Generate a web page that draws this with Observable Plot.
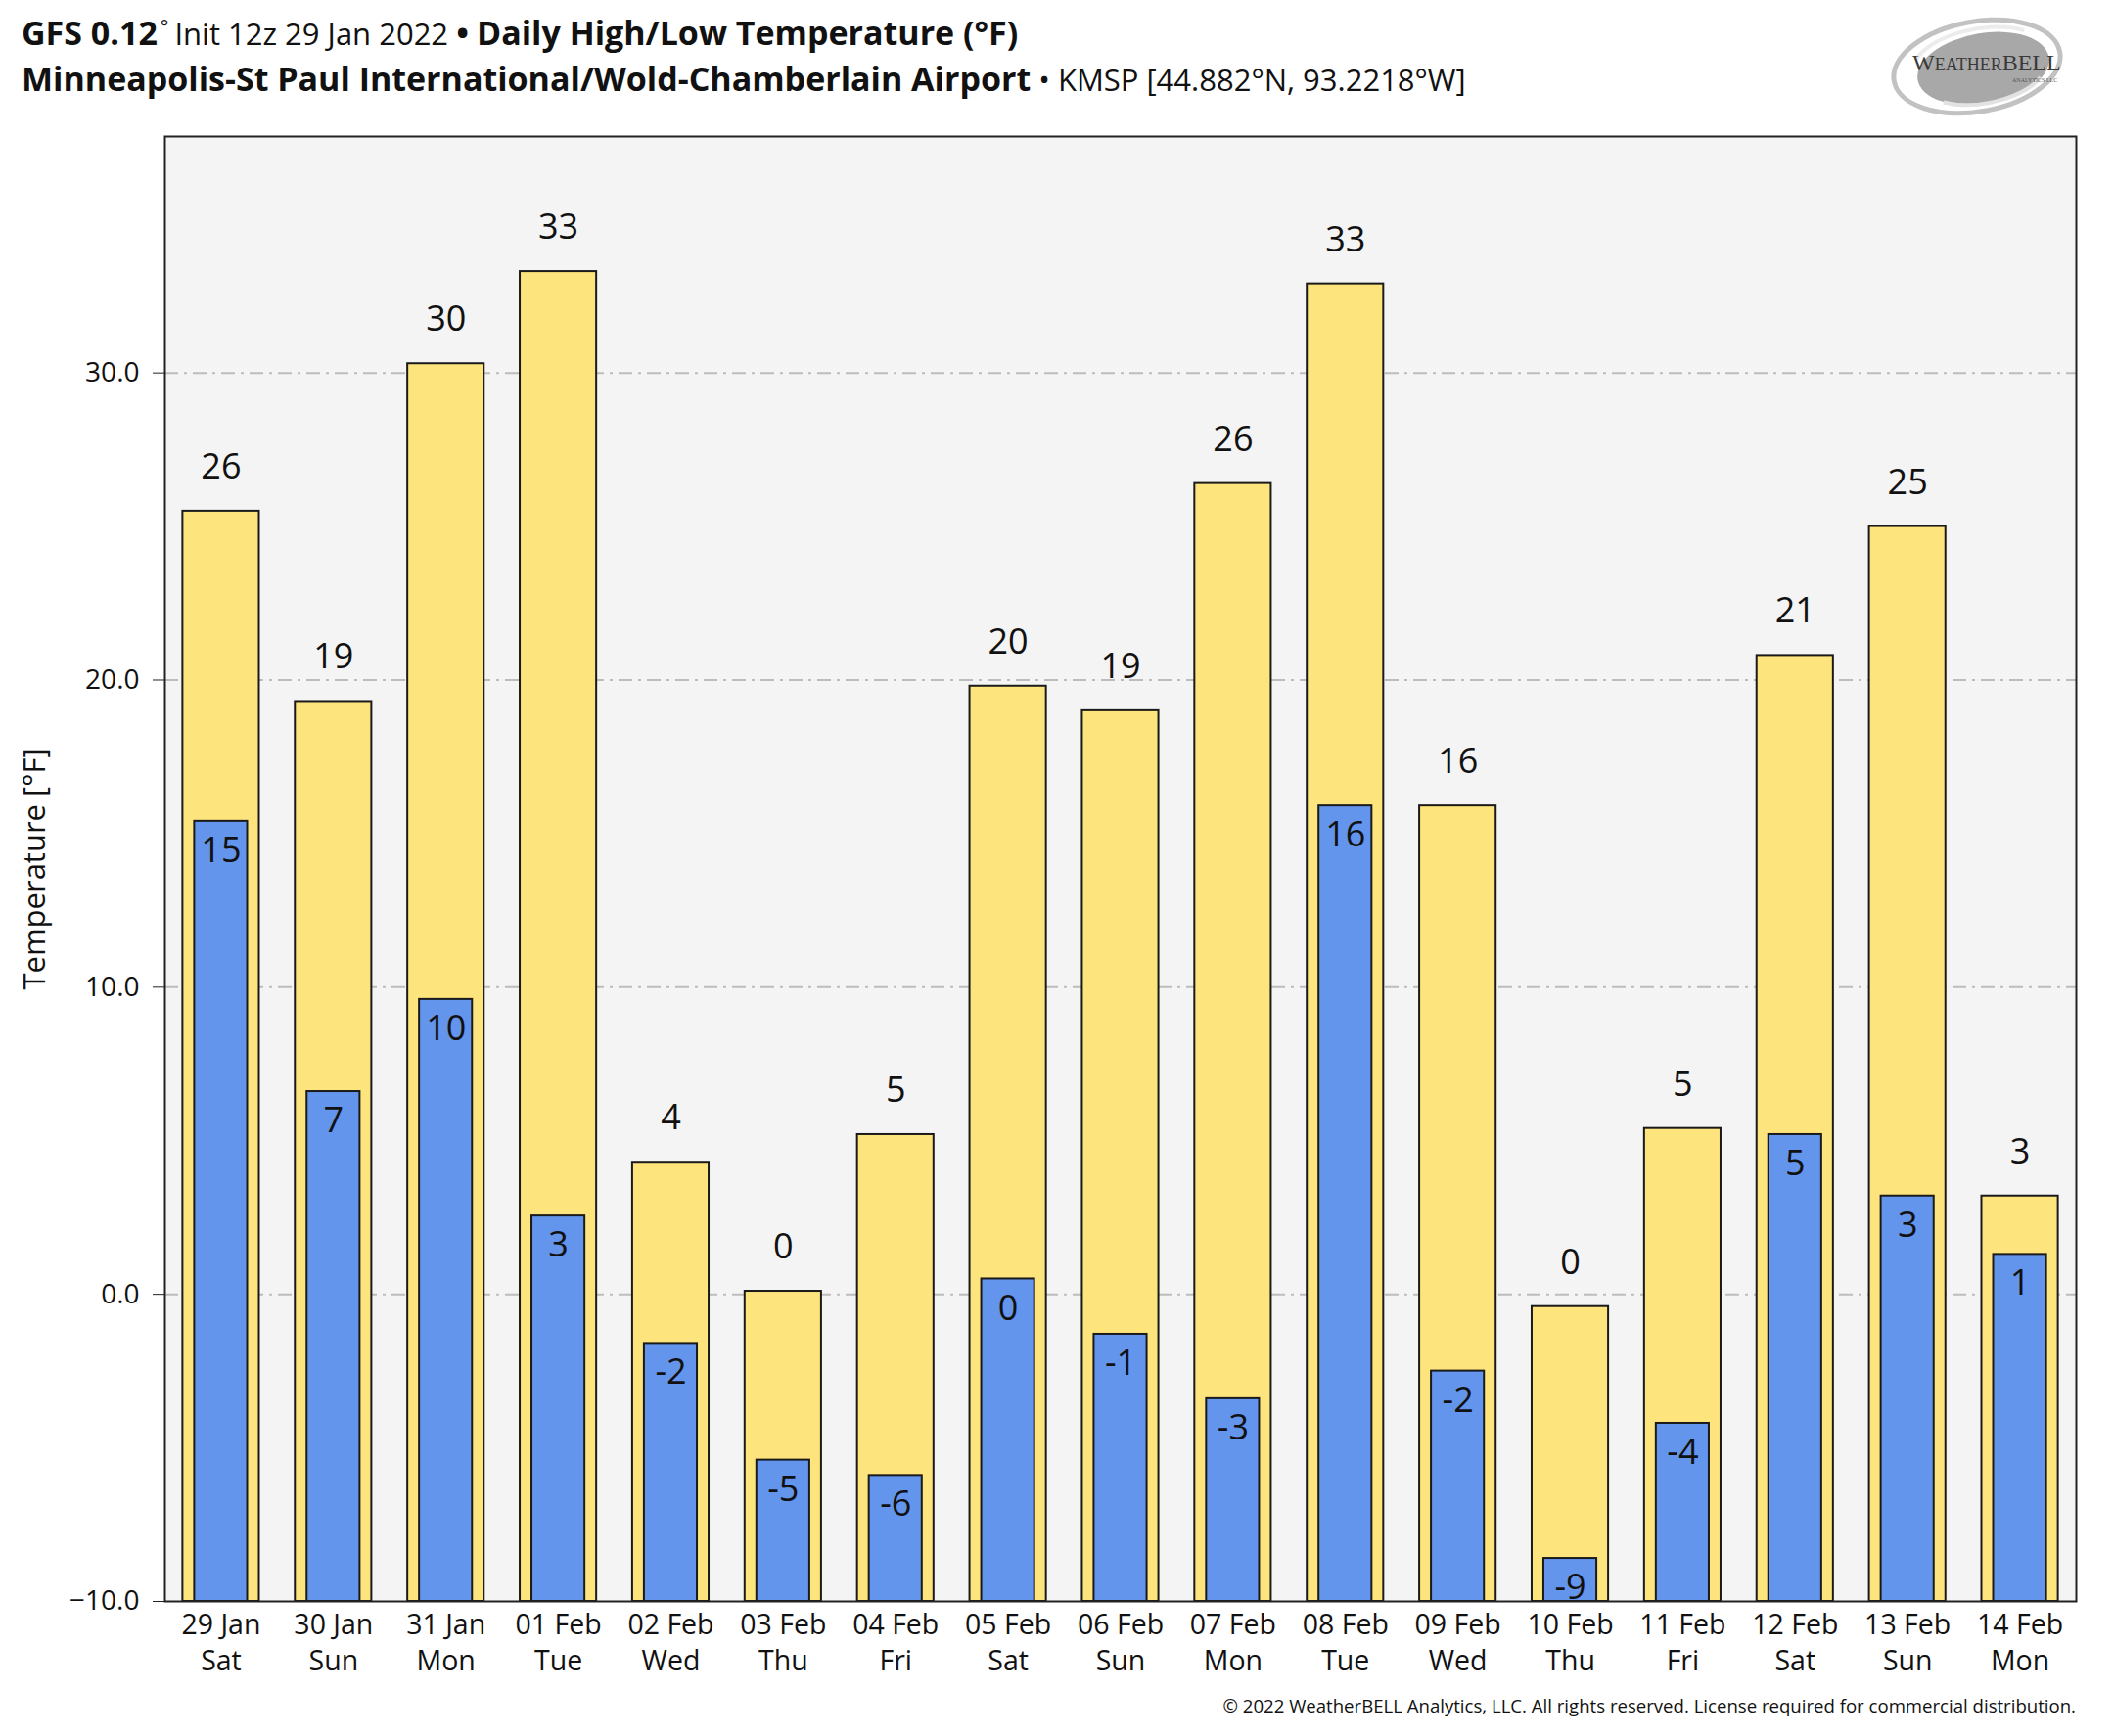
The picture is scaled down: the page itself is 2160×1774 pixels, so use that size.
<!DOCTYPE html>
<html>
<head>
<meta charset="utf-8">
<script src="https://cdn.jsdelivr.net/npm/d3@7"></script>
<script src="https://cdn.jsdelivr.net/npm/@observablehq/plot@0.6"></script>
<style>
  html, body { margin: 0; padding: 0; background: #ffffff; }
  body { width: 2160px; font-family: "Open Sans", "Noto Sans", sans-serif; color: #111; }
  #header { position: relative; height: 120px; width: 2160px; }
  .tline { position: absolute; left: 22px; font-size: 31px; line-height: 40px; white-space: nowrap; }
  .tline b { font-weight: 700; font-size: 34px; }
  #logo { position: absolute; left: 1928px; top: 12px; }
  #footer { width: 2121px; text-align: right; font-size: 18.6px; line-height: 30px; height: 30px; color: #111; white-space: nowrap; }
  #chart svg { display: block; }
</style>
</head>
<body>
<div id="header">
  <div class="tline" style="top:13px"><b>GFS 0.12</b><span style="font-size:20px;vertical-align:super;line-height:0;padding:0 6px 0 3px">°</span>Init 12z 29 Jan 2022 <b>•</b> <b>Daily High/Low Temperature (°F)</b></div>
  <div class="tline" style="top:60px"><b>Minneapolis-St Paul International/Wold-Chamberlain Airport</b> • KMSP [44.882°N, 93.2218°W]</div>
  <svg id="logo" width="196" height="108" viewBox="0 0 196 108">
    <g transform="translate(92,56) rotate(-10)">
      <ellipse cx="0" cy="0" rx="86" ry="46" fill="none" stroke="#c2c2c2" stroke-width="5"/>
      <ellipse cx="6" cy="3" rx="68" ry="36" fill="#a8a8a8"/>
      <path d="M-60,-18 A70,34 0 0 1 54,-28" fill="none" stroke="#ececec" stroke-width="4"/>
      <path d="M-40,30 A64,30 0 0 0 62,22" fill="none" stroke="#e2e2e2" stroke-width="4"/>
    </g>
    <text x="26" y="60" font-family="Liberation Serif, serif" font-size="18" fill="#3a3a3a"><tspan font-size="24">W</tspan>EATHER<tspan font-size="24">BELL</tspan></text>
    <text x="128" y="72" font-family="Liberation Serif, serif" font-size="6" fill="#555">ANALYTICS LLC</text>
  </svg>
</div>
<div id="chart"></div>
<div id="footer">© 2022 WeatherBELL Analytics, LLC. All rights reserved. License required for commercial distribution.</div>
<script>
const days = ["29 Jan","30 Jan","31 Jan","01 Feb","02 Feb","03 Feb","04 Feb","05 Feb","06 Feb","07 Feb","08 Feb","09 Feb","10 Feb","11 Feb","12 Feb","13 Feb","14 Feb"];
const weekdays = ["Sat","Sun","Mon","Tue","Wed","Thu","Fri","Sat","Sun","Mon","Tue","Wed","Thu","Fri","Sat","Sun","Mon"];
const highs = [25.5, 19.3, 30.3, 33.3, 4.3, 0.1, 5.2, 19.8, 19.0, 26.4, 32.9, 15.9, -0.4, 5.4, 20.8, 25.0, 3.2];
const lows  = [15.4, 6.6, 9.6, 2.55, -1.6, -5.4, -5.9, 0.5, -1.3, -3.4, 15.9, -2.5, -8.6, -4.2, 5.2, 3.2, 1.3];
const highLabels = ["26","19","30","33","4","0","5","20","19","26","33","16","0","5","21","25","3"];
const lowLabels  = ["15","7","10","3","-2","-5","-6","0","-1","-3","16","-2","-9","-4","5","3","1"];
const yTicks = [-10, 0, 10, 20, 30];
const gridTicks = [0, 10, 20, 30];
const yDomain = [-10, 37.7];

const data = days.map((d, i) => ({day: d, wd: weekdays[i], high: highs[i], low: lows[i], hl: highLabels[i], ll: lowLabels[i]}));
const wdMap = new Map(days.map((d, i) => [d, weekdays[i]]));

const chart = Plot.plot({
  width: 2160,
  height: 1608,
  marginLeft: 168,
  marginRight: 39,
  marginTop: 19,
  marginBottom: 92,
  style: {fontFamily: "Open Sans, Noto Sans, sans-serif", fontSize: "28px", background: "#ffffff", color: "#111"},
  x: {domain: days, paddingInner: 0.32, paddingOuter: 0.16, round: false, label: null},
  y: {domain: yDomain, label: null},
  marks: [
    Plot.frame({fill: "#f4f4f4"}),
    Plot.gridY(gridTicks, {stroke: "#bcbcbc", strokeOpacity: 1, strokeWidth: 2, strokeDasharray: "14,6,3,6"}),
    Plot.barY(data, {x: "day", y1: yDomain[0], y2: "high", fill: "#fee47c", stroke: "#1a1a1a", strokeWidth: 2}),
    Plot.barY(data, {x: "day", y1: yDomain[0], y2: "low", fill: "#6495ed", stroke: "#1a1a1a", strokeWidth: 2, insetLeft: 12, insetRight: 12}),
    Plot.text(data, {x: "day", y: "high", text: "hl", dy: -45, fontSize: 36, fill: "#111"}),
    Plot.text(data, {x: "day", y: "low", text: "ll", dy: 30, fontSize: 36, fill: "#111"}),
    Plot.axisY(yTicks, {tickSize: 12, tickPadding: 14, tickFormat: d3.format(".1f"), fontSize: 28, label: null, stroke: "#222"}),
    Plot.axisX({tickSize: 0, tickPadding: 7, tickFormat: d => d + "\n" + wdMap.get(d), fontSize: 28.5, lineHeight: 1.31, label: null}),
    Plot.text(["Temperature [°F]"], {frameAnchor: "left", textAnchor: "middle", dx: -132, rotate: -90, fontSize: 31, fill: "#111"}),
    Plot.frame({stroke: "#222", strokeWidth: 2})
  ]
});
document.getElementById("chart").appendChild(chart);
</script>
</body>
</html>
